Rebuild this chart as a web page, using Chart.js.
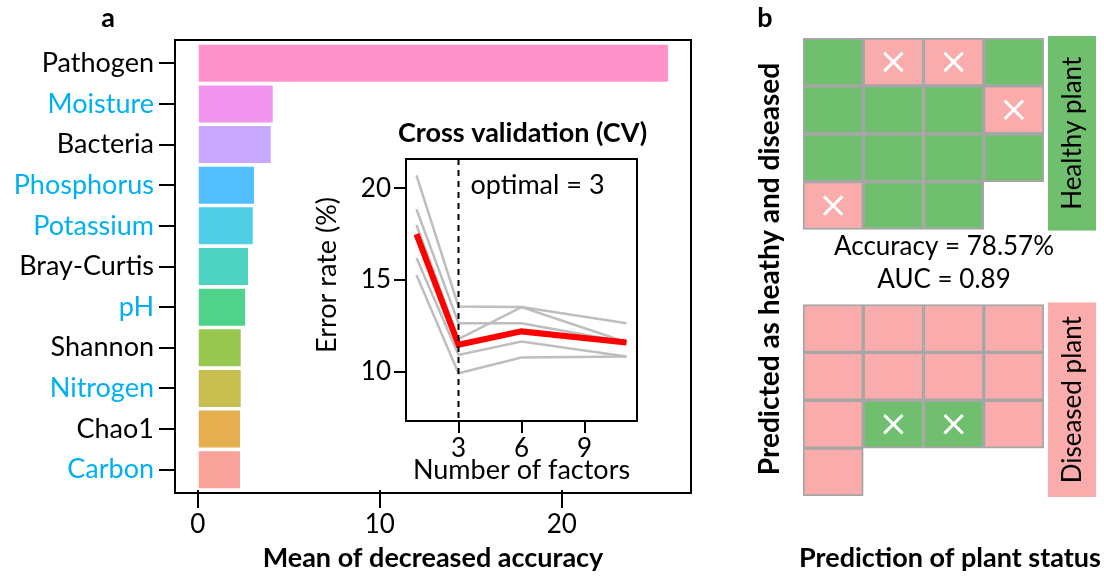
<!DOCTYPE html>
<html>
<head>
<meta charset="utf-8">
<script src="https://cdn.jsdelivr.net/npm/chart.js@4.4.1/dist/chart.umd.min.js"></script>
<style>
  html, body { margin: 0; padding: 0; background: #fff; }
  #wrap { position: relative; width: 1104px; height: 576px; overflow: hidden; }
  #wrap canvas { position: absolute; }
</style>
</head>
<body>
<div id="wrap">
  <canvas id="importance" width="720" height="576" style="left:0;top:0"></canvas>
  <canvas id="cv" width="444" height="380" style="left:300px;top:110px"></canvas>
  <canvas id="grid" width="364" height="576" style="left:740px;top:0"></canvas>
</div>
<script>
// random forest importance of each factor
const factors = ["Pathogen", "Moisture", "Bacteria", "Phosphorus", "Potassium", "Bray-Curtis",
                 "pH", "Shannon", "Nitrogen", "Chao1", "Carbon"];
const meanDecrease = [25.84, 4.12, 4.01, 3.09, 3.02, 2.76, 2.6, 2.36, 2.36, 2.32, 2.32];
const soilFactor = [false, true, false, true, true, false, true, false, true, false, true];
const barColors = ["#FF92C9", "#F295EF", "#C8A9FF", "#52BFFF", "#4FCEE5", "#4ED3C0",
                   "#4FD28C", "#97C74F", "#C8BE50", "#E5AF50", "#F9A39B"];
const accuracyTicks = [0, 10, 20];

// cross validation (rfcv), 5 repeats + mean
const nFactors = [1, 3, 6, 11];
const cvRuns = [
  [20.7, 13.55, 13.52, 12.64],
  [18.86, 12.64, 12.64, 11.6],
  [18.0, 11.77, 13.52, 11.6],
  [16.2, 10.91, 11.64, 10.82],
  [15.27, 9.91, 10.77, 10.82]
];
const cvMean = [17.5, 11.46, 12.19, 11.58];
const errorTicks = [10, 15, 20];
const factorTicks = [3, 6, 9];
const optimalN = 3;

// prediction of each plant (1 = correct)
const healthyOk = [1, 0, 0, 1, 1, 1, 1, 0, 1, 1, 1, 1, 0, 1, 1];
const diseasedOk = [1, 1, 1, 1, 1, 1, 1, 1, 1, 0, 0, 1, 1];
const auc = 0.89;

const FONT = "Lato";
const BLUE = "#00B0F0";
const GREEN = "#6FBF6F";
const PINK = "#FAABAB";

// box around the plot area, pad = extra room above/below
function frame(pad) {
  return {
    id: "frame",
    afterDraw(chart) {
      const { ctx, chartArea: a } = chart;
      ctx.save();
      ctx.strokeStyle = "#000";
      ctx.lineWidth = 2;
      ctx.strokeRect(a.left, a.top - pad, a.right - a.left, a.bottom - a.top + 2 * pad);
      ctx.restore();
    }
  };
}

function setTicks(values) {
  return s => { s.ticks = values.map(v => ({ value: v })); };
}

// ---- panel a: importance bars
new Chart(document.getElementById("importance"), {
  type: "bar",
  data: {
    labels: factors,
    datasets: [{
      data: meanDecrease,
      backgroundColor: barColors,
      barPercentage: 0.91,
      categoryPercentage: 1
    }]
  },
  options: {
    indexAxis: "y",
    responsive: false,
    animation: false,
    layout: { padding: { top: 43, right: 29, left: 0, bottom: 0 } },
    plugins: { legend: { display: false }, tooltip: { enabled: false } },
    scales: {
      x: {
        type: "linear",
        min: -1.25,
        max: 27.1,
        afterBuildTicks: setTicks(accuracyTicks),
        afterFit: s => { s.height = 86; },
        border: { display: false },
        grid: { drawOnChartArea: false, tickLength: 18, color: "#000", lineWidth: 2 },
        ticks: { color: "#000", font: { family: FONT, size: 26 }, padding: 1, maxRotation: 0 },
        title: {
          display: true,
          text: "Mean of decreased accuracy",
          color: "#000",
          font: { family: FONT, size: 27, weight: "bold" },
          padding: { top: 0, bottom: 2 }
        }
      },
      y: {
        afterFit: s => { s.width = 175; },
        border: { display: false },
        grid: { offset: false, drawOnChartArea: false, tickLength: 16, color: "#000", lineWidth: 2 },
        ticks: {
          color: c => (soilFactor[c.index] ? BLUE : "#000"),
          font: { family: FONT, size: 27 },
          padding: 5
        }
      }
    }
  },
  plugins: [frame(3), {
    id: "panelA",
    afterDraw(chart) {
      const ctx = chart.ctx;
      ctx.save();
      ctx.fillStyle = "#000";
      ctx.font = "bold 27px " + FONT;
      ctx.textAlign = "center";
      ctx.textBaseline = "middle";
      ctx.fillText("a", 108, 18);
      ctx.restore();
    }
  }]
});

// ---- inset: cross validation
const cvSets = [{
  data: nFactors.map((n, i) => ({ x: n, y: cvMean[i] })),
  borderColor: "#FF0000",
  borderWidth: 6
}].concat(cvRuns.map(run => ({
  data: nFactors.map((n, i) => ({ x: n, y: run[i] })),
  borderColor: "#BEBEBE",
  borderWidth: 2.5
})));

new Chart(document.getElementById("cv"), {
  type: "line",
  data: { datasets: cvSets },
  options: {
    responsive: false,
    animation: false,
    elements: { point: { radius: 0 }, line: { tension: 0 } },
    layout: { padding: { top: 49, right: 107, left: 0, bottom: 0 } },
    plugins: { legend: { display: false }, tooltip: { enabled: false } },
    scales: {
      x: {
        type: "linear",
        min: 0.5,
        max: 11.5,
        afterBuildTicks: setTicks(factorTicks),
        afterFit: s => { s.height = 69; },
        border: { display: false },
        grid: { drawOnChartArea: false, tickLength: 12, color: "#000", lineWidth: 2 },
        ticks: { color: "#000", font: { family: FONT, size: 26 }, padding: 0, maxRotation: 0 },
        title: {
          display: true,
          text: "Number of factors",
          color: "#000",
          font: { family: FONT, size: 27 },
          padding: { top: 0, bottom: 4 }
        }
      },
      y: {
        type: "linear",
        min: 7.3,
        max: 21.6,
        afterBuildTicks: setTicks(errorTicks),
        afterFit: s => { s.width = 106; },
        border: { display: false },
        grid: { drawOnChartArea: false, tickLength: 12, color: "#000", lineWidth: 2 },
        ticks: { color: "#000", font: { family: FONT, size: 26 }, padding: 3 }
      }
    }
  },
  plugins: [frame(0), {
    id: "optimal",
    afterDatasetsDraw(chart) {
      const { ctx, chartArea: a, scales } = chart;
      const x = scales.x.getPixelForValue(optimalN);
      ctx.save();
      ctx.strokeStyle = "#000";
      ctx.lineWidth = 2;
      ctx.setLineDash([6, 5]);
      ctx.beginPath();
      ctx.moveTo(x, a.top);
      ctx.lineTo(x, a.bottom);
      ctx.stroke();
      ctx.setLineDash([]);
      ctx.fillStyle = "#000";
      ctx.textBaseline = "middle";
      ctx.font = "27px " + FONT;
      ctx.fillText("optimal = " + optimalN, x + 12, a.top + 26);
      ctx.textAlign = "center";
      ctx.font = "bold 27px " + FONT;
      ctx.fillText("Cross validation (CV)", (a.left + a.right) / 2 + 1, a.top - 26);
      // y axis title
      ctx.font = "27px " + FONT;
      ctx.translate(27, 165);
      ctx.rotate(-Math.PI / 2);
      ctx.fillText("Error rate (%)", 0, 0);
      ctx.restore();
    }
  }]
});

// ---- panel b: prediction grid
const cols = ["c1", "c2", "c3", "c4"];
const GAP = 1.565;
const groups = [
  { name: "Healthy plant", ok: healthyOk, color: GREEN, other: PINK },
  { name: "Diseased plant", ok: diseasedOk, color: PINK, other: GREEN }
];
const cellSets = [];
const misses = [];
let rowStart = 0;
groups.forEach(g => {
  const rows = Math.ceil(g.ok.length / cols.length);
  g.start = rowStart;
  g.end = rowStart + rows;
  for (let r = 0; r < rows; r++) {
    const data = [], bg = [];
    cols.forEach((c, j) => {
      const i = r * cols.length + j;
      if (i < g.ok.length) {
        data.push([rowStart + r, rowStart + r + 1]);
        bg.push(g.ok[i] ? g.color : g.other);
        if (!g.ok[i]) misses.push({ x: c, y: rowStart + r + 0.5 });
      } else {
        data.push(null);
        bg.push("rgba(0,0,0,0)");
      }
    });
    cellSets.push({
      type: "bar",
      data: data,
      backgroundColor: bg,
      borderColor: "#A6A6A6",
      borderWidth: 2,
      borderSkipped: false,
      barPercentage: 1,
      categoryPercentage: 1,
      grouped: false,
      order: 2
    });
  }
  rowStart = g.end + GAP;
});
const nCorrect = healthyOk.concat(diseasedOk).filter(v => v).length;
const accuracy = nCorrect / (healthyOk.length + diseasedOk.length) * 100;

new Chart(document.getElementById("grid"), {
  type: "bar",
  data: {
    labels: cols,
    datasets: [{
      type: "line",
      data: misses,
      showLine: false,
      pointStyle: "crossRot",
      pointRadius: 13,
      pointBorderColor: "#fff",
      pointBorderWidth: 3,
      order: 1
    }].concat(cellSets)
  },
  options: {
    responsive: false,
    animation: false,
    layout: { padding: { top: 38, right: 60, left: 63, bottom: 80 } },
    plugins: { legend: { display: false }, tooltip: { enabled: false } },
    scales: {
      x: { display: false },
      y: { display: false, reverse: true, min: 0, max: rowStart - GAP }
    }
  },
  plugins: [{
    id: "gridLabels",
    afterDraw(chart) {
      const { ctx, scales } = chart;
      ctx.save();
      ctx.textAlign = "center";
      ctx.textBaseline = "middle";
      groups.forEach(g => {
        const top = scales.y.getPixelForValue(g.start) - 2;
        const bottom = scales.y.getPixelForValue(g.end) + 1;
        ctx.fillStyle = g.color;
        ctx.fillRect(308, top, 48, bottom - top);
        ctx.save();
        ctx.translate(333, (top + bottom) / 2);
        ctx.rotate(-Math.PI / 2);
        ctx.fillStyle = "#000";
        ctx.font = "26px " + FONT;
        ctx.fillText(g.name, 0, 0);
        ctx.restore();
      });
      ctx.fillStyle = "#000";
      ctx.font = "26px " + FONT;
      ctx.fillText("Accuracy = " + accuracy.toFixed(2) + "%", 204, 247);
      ctx.fillText("AUC = " + auc.toFixed(2), 204, 280);
      ctx.font = "bold 27px " + FONT;
      ctx.fillText("Prediction of plant status", 210, 558);
      ctx.fillText("b", 25, 18);
      ctx.save();
      ctx.translate(30, 269);
      ctx.rotate(-Math.PI / 2);
      ctx.font = "bold 28px " + FONT;
      ctx.fillText("Predicted as heathy and diseased", 0, 0);
      ctx.restore();
      ctx.restore();
    }
  }]
});
</script>
</body>
</html>
